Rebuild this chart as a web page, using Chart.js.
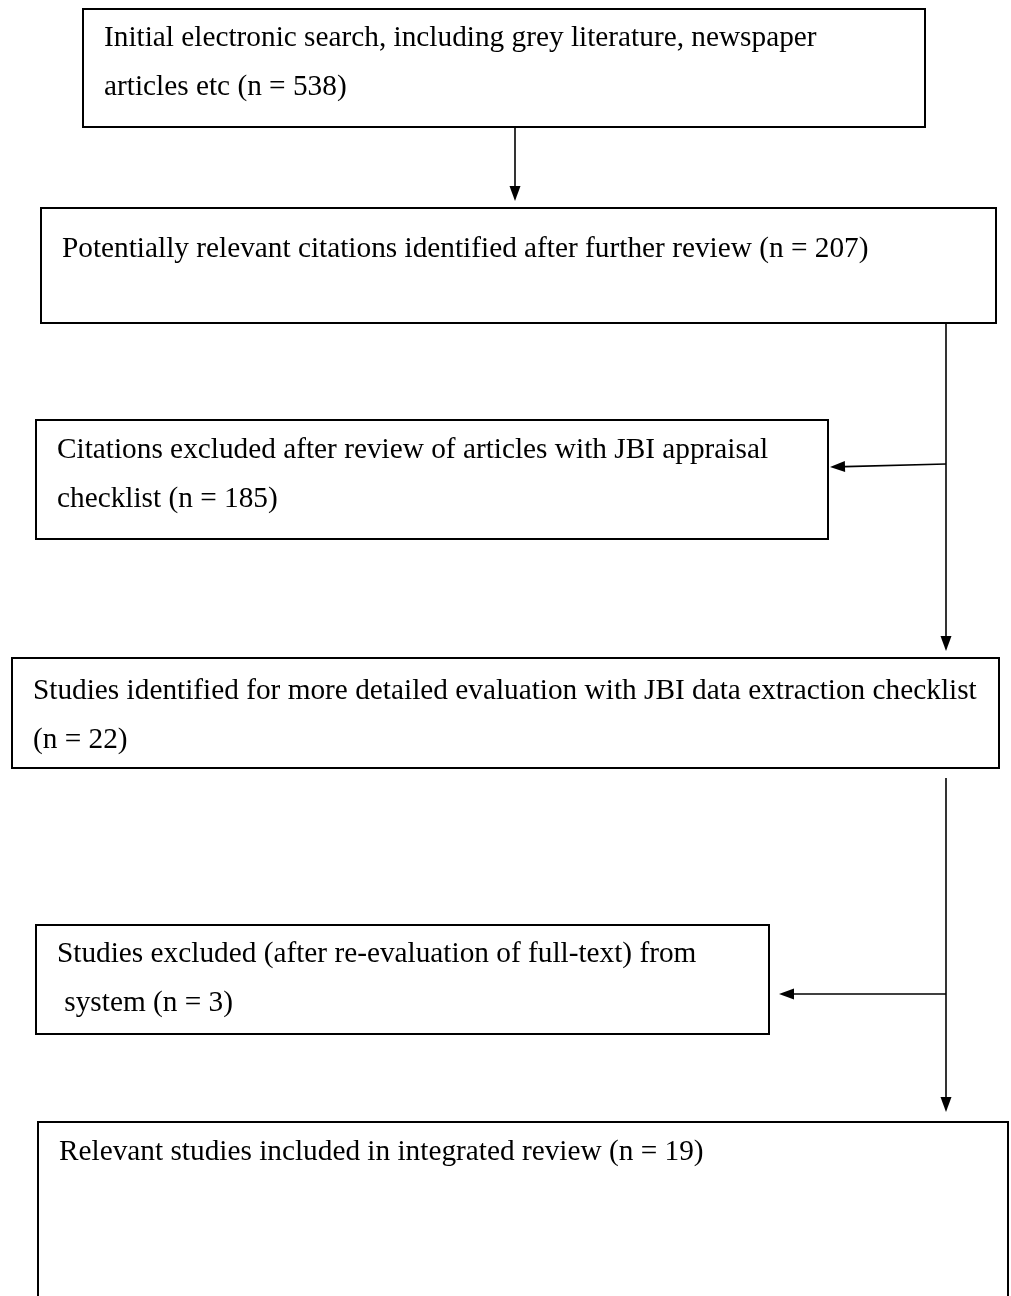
<!DOCTYPE html>
<html>
<head>
<meta charset="utf-8">
<script src="https://cdn.jsdelivr.net/npm/chart.js@4.4.1/dist/chart.umd.min.js"></script>
<style>
  html, body { margin: 0; padding: 0; background: #fff; }
  #wrap { width: 1011px; height: 1296px; position: relative; }
</style>
</head>
<body>
<div id="wrap"><canvas id="flow"></canvas></div>
<script>
// === DATOS ===
const stepCounts = [538, 207, 185, 22, 3, 19];
const stepLines = [
  ["Initial electronic search, including grey literature, newspaper", "articles etc (n = {n})"],
  ["Potentially relevant citations identified after further review (n = {n})"],
  ["Citations excluded after review of articles with JBI appraisal", "checklist (n = {n})"],
  ["Studies identified for more detailed evaluation with JBI data extraction checklist", "(n = {n})"],
  ["Studies excluded (after re-evaluation of full-text) from", " system (n = {n})"],
  ["Relevant studies included in integrated review (n = {n})"]
];

// === LAYOUT (coordenadas del lienzo) ===
const boxLeft   = [83, 41, 36, 12, 36, 38];
const boxTop    = [9, 208, 420, 658, 925, 1122];
const boxRight  = [925, 996, 828, 999, 769, 1008];
const boxBottom = [127, 323, 539, 768, 1034, 1310];
const textBase  = [46, 257, 458, 699, 962, 1160];
const lineGap   = [49, 49, 49, 49, 49, 49];
// flechas: [x1, y1, x2, y2] (la punta en x2,y2)
const arrows = [
  [515, 127, 515, 201],
  [946, 323, 946, 651],
  [946, 464, 830, 467],
  [946, 778, 946, 1112],
  [946, 994, 779, 994]
];

const flowPlugin = {
  id: "flow",
  afterDatasetsDraw(chart) {
    const ctx = chart.ctx;
    const sx = chart.scales.x, sy = chart.scales.y;
    const px = (v) => sx.getPixelForValue(v);
    const py = (v) => sy.getPixelForValue(v);
    ctx.save();
    ctx.strokeStyle = "#000";
    ctx.fillStyle = "#000";

    // cajas
    stepLines.forEach((lines, i) => {
      const x0 = px(boxLeft[i]), y0 = py(boxTop[i]);
      const x1 = px(boxRight[i]), y1 = py(boxBottom[i]);
      ctx.lineWidth = 2;
      ctx.strokeRect(x0, y0, x1 - x0, y1 - y0);
      ctx.font = "29.3px 'Liberation Serif', 'DejaVu Serif', serif";
      ctx.textBaseline = "alphabetic";
      lines.forEach((ln, k) => {
        const txt = ln.replace("{n}", stepCounts[i]);
        ctx.fillText(txt, x0 + 21, py(textBase[i]) + k * lineGap[i]);
      });
    });

    // flechas
    arrows.forEach(([ax1, ay1, ax2, ay2]) => {
      const x1 = px(ax1), y1 = py(ay1), x2 = px(ax2), y2 = py(ay2);
      const ang = Math.atan2(y2 - y1, x2 - x1);
      const len = 15, half = 5.5;
      const bx = x2 - len * Math.cos(ang), by = y2 - len * Math.sin(ang);
      ctx.lineWidth = 1.6;
      ctx.beginPath();
      ctx.moveTo(x1, y1);
      ctx.lineTo(bx, by);
      ctx.stroke();
      ctx.beginPath();
      ctx.moveTo(x2, y2);
      ctx.lineTo(bx + half * Math.sin(ang), by - half * Math.cos(ang));
      ctx.lineTo(bx - half * Math.sin(ang), by + half * Math.cos(ang));
      ctx.closePath();
      ctx.fill();
    });
    ctx.restore();
  }
};

new Chart(document.getElementById("flow"), {
  type: "scatter",
  data: { datasets: [{ data: [], pointRadius: 0 }] },
  options: {
    responsive: true,
    maintainAspectRatio: false,
    animation: false,
    layout: { padding: 0 },
    plugins: { legend: { display: false }, tooltip: { enabled: false } },
    scales: {
      x: { type: "linear", min: 0, max: 1011, display: false },
      y: { type: "linear", min: 0, max: 1296, reverse: true, display: false }
    }
  },
  plugins: [flowPlugin]
});
</script>
</body>
</html>
